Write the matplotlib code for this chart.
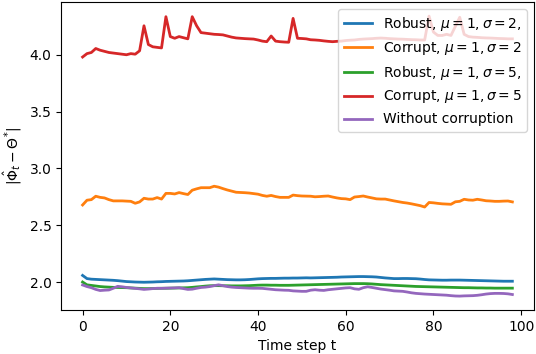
import matplotlib
matplotlib.use("Agg")
import matplotlib.pyplot as plt

steps = list(range(99))

robust_s2 = [2.058, 2.03, 2.025, 2.023, 2.021, 2.019, 2.017, 2.015, 2.012, 2.008,
             2.004, 2.002, 2.0, 1.999, 1.998, 1.999, 2.0, 2.002, 2.003, 2.005,
             2.006, 2.007, 2.008, 2.009, 2.011, 2.014, 2.017, 2.02, 2.023, 2.025,
             2.027, 2.025, 2.023, 2.021, 2.02, 2.019, 2.019, 2.02, 2.022, 2.025,
             2.028, 2.03, 2.031, 2.032, 2.032, 2.033, 2.034, 2.034, 2.035, 2.035,
             2.036, 2.037, 2.036, 2.037, 2.038, 2.039, 2.04, 2.041, 2.042, 2.044,
             2.045, 2.046, 2.047, 2.048, 2.048, 2.047, 2.046, 2.044, 2.04, 2.036,
             2.033, 2.03, 2.03, 2.031, 2.031, 2.03, 2.029, 2.026, 2.022, 2.019,
             2.018, 2.017, 2.016, 2.016, 2.017, 2.017, 2.017, 2.016, 2.015, 2.014,
             2.013, 2.012, 2.011, 2.01, 2.009, 2.008, 2.007, 2.007, 2.007]

corrupt_s2 = [2.678, 2.72, 2.725, 2.755, 2.745, 2.74, 2.725, 2.714, 2.714, 2.714,
              2.712, 2.71, 2.693, 2.705, 2.737, 2.73, 2.73, 2.743, 2.73, 2.78,
              2.78, 2.775, 2.787, 2.778, 2.77, 2.808, 2.82, 2.83, 2.83, 2.83,
              2.843, 2.835, 2.822, 2.81, 2.8, 2.79, 2.788, 2.786, 2.783, 2.778,
              2.773, 2.762, 2.755, 2.762, 2.752, 2.745, 2.745, 2.745, 2.765, 2.76,
              2.757, 2.756, 2.755, 2.75, 2.752, 2.755, 2.757, 2.748, 2.74, 2.734,
              2.732, 2.725, 2.748, 2.752, 2.757, 2.748, 2.74, 2.732, 2.73, 2.73,
              2.722, 2.714, 2.707, 2.7, 2.695, 2.688, 2.68, 2.672, 2.66, 2.7,
              2.697, 2.692, 2.688, 2.686, 2.684, 2.706, 2.71, 2.728, 2.722, 2.72,
              2.728, 2.722, 2.715, 2.713, 2.71, 2.71, 2.712, 2.713, 2.705]

robust_s5 = [2.0, 1.975, 1.97, 1.965, 1.96, 1.957, 1.955, 1.953, 1.952, 1.951,
             1.95, 1.948, 1.946, 1.944, 1.942, 1.942, 1.943, 1.944, 1.945, 1.945,
             1.946, 1.947, 1.948, 1.949, 1.95, 1.953, 1.957, 1.96, 1.964, 1.967,
             1.968, 1.968, 1.967, 1.967, 1.966, 1.966, 1.966, 1.967, 1.968, 1.97,
             1.972, 1.973, 1.973, 1.972, 1.972, 1.971, 1.971, 1.971, 1.972, 1.973,
             1.974, 1.975, 1.976, 1.977, 1.978, 1.979, 1.98, 1.981, 1.982, 1.983,
             1.984, 1.985, 1.986, 1.986, 1.986, 1.985, 1.983, 1.98, 1.977, 1.975,
             1.973, 1.971, 1.969, 1.967, 1.965, 1.963, 1.961, 1.96, 1.959, 1.958,
             1.957, 1.956, 1.955, 1.954, 1.953, 1.952, 1.951, 1.95, 1.95, 1.949,
             1.948, 1.948, 1.947, 1.947, 1.946, 1.946, 1.946, 1.946, 1.946]

corrupt_s5 = [3.98, 4.01, 4.02, 4.055, 4.04, 4.03, 4.02, 4.015, 4.01, 4.005,
              4.0, 4.01, 4.005, 4.035, 4.255, 4.09, 4.07, 4.065, 4.06, 4.335,
              4.16, 4.145, 4.16, 4.15, 4.14, 4.335, 4.255, 4.195, 4.19, 4.185,
              4.18, 4.178, 4.175, 4.165, 4.155, 4.148, 4.145, 4.142, 4.14, 4.138,
              4.13, 4.12, 4.115, 4.165, 4.12, 4.115, 4.112, 4.11, 4.32, 4.145,
              4.143, 4.14, 4.132, 4.13, 4.127, 4.122, 4.118, 4.115, 4.118, 4.12,
              4.125, 4.128, 4.13, 4.135, 4.138, 4.14, 4.142, 4.145, 4.147, 4.145,
              4.142, 4.14, 4.138, 4.137, 4.135, 4.133, 4.132, 4.13, 4.13, 4.34,
              4.2, 4.17, 4.17, 4.18, 4.17, 4.25, 4.33, 4.18, 4.16, 4.155,
              4.153, 4.15, 4.148, 4.147, 4.145, 4.143, 4.142, 4.14, 4.14]

clean = [1.974, 1.96, 1.95, 1.935, 1.925, 1.928, 1.93, 1.945, 1.962, 1.958,
         1.952, 1.948, 1.944, 1.94, 1.935, 1.938, 1.942, 1.945, 1.944, 1.946,
         1.947, 1.948, 1.95, 1.942, 1.935, 1.937, 1.945, 1.952, 1.955, 1.96,
         1.968, 1.975, 1.968, 1.96, 1.955, 1.952, 1.95, 1.948, 1.946, 1.945,
         1.945, 1.944, 1.94, 1.936, 1.932, 1.93, 1.928, 1.927, 1.922, 1.92,
         1.918, 1.918, 1.928, 1.932, 1.928, 1.926, 1.932, 1.936, 1.94, 1.944,
         1.948, 1.95, 1.94, 1.936, 1.95, 1.958, 1.952, 1.945, 1.938, 1.933,
         1.928, 1.922, 1.92, 1.918, 1.912, 1.905, 1.9, 1.897, 1.894, 1.892,
         1.89, 1.888, 1.886, 1.884, 1.88, 1.877, 1.876, 1.878, 1.879, 1.88,
         1.883, 1.888, 1.894, 1.898, 1.9, 1.9, 1.899, 1.896, 1.89]

labels = [r"Robust, $\mu=1, \sigma=2$,",
          r"Corrupt, $\mu=1, \sigma=2$",
          r"Robust, $\mu=1, \sigma=5$,",
          r"Corrupt, $\mu=1, \sigma=5$",
          "Without corruption"]


def main():
    fig = plt.figure(figsize=(5.36, 3.54), dpi=100)
    ax = fig.add_subplot(111)
    fig.subplots_adjust(left=0.114, right=0.996, bottom=0.124, top=0.994)

    series = [robust_s2, corrupt_s2, robust_s5, corrupt_s5, clean]
    for ys, lab in zip(series, labels):
        ax.plot(steps, ys, label=lab, linewidth=2)

    ax.set_xlabel("Time step t")
    ax.set_ylabel(r"$|\hat{\Phi}_t - \Theta^{*}|$")
    ax.legend(loc="upper right")

    fig.savefig("out.png", dpi=100)


if __name__ == "__main__":
    main()
